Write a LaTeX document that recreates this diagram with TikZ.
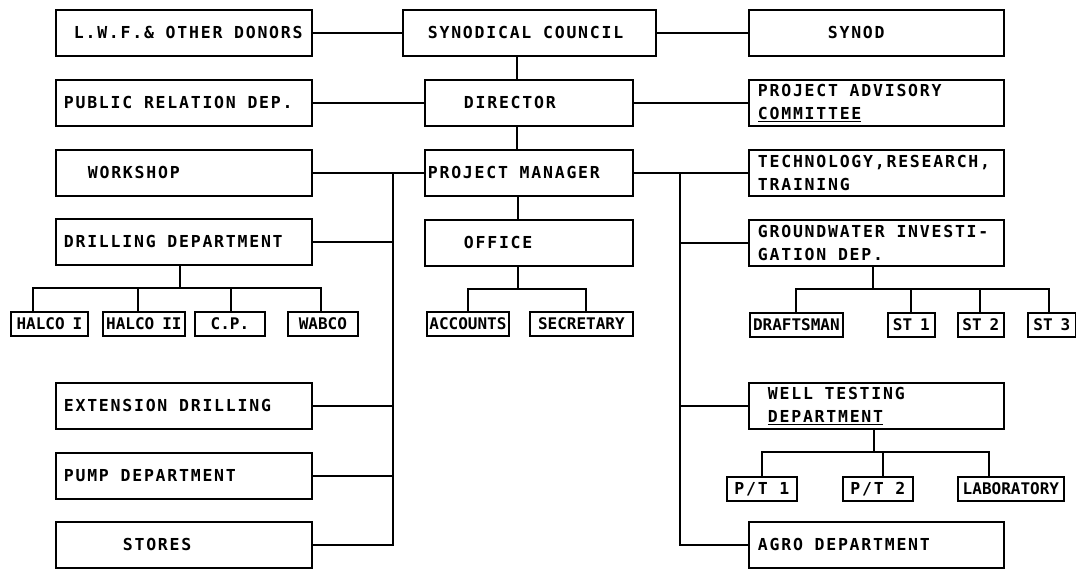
\documentclass[tikz,border=0pt]{standalone}
\usepackage{fontspec}
\newfontfamily\mainf{DejaVu Sans Mono}[LetterSpace=10.7]
\newfontfamily\subf{DejaVu Sans Mono}
\newcommand\bx[7][box]{\node[#1, minimum width=#5pt, minimum height=#6pt, text width=#5pt] (#2) at (#3,#4) {#7};}
\begin{document}
\begin{tikzpicture}[x=1pt,y=-1pt, line width=1.8pt,
  box/.style={draw, anchor=north west, inner sep=0pt, align=left,
    font=\mainf\bfseries\fontsize{16.5}{20}\selectfont,
    execute at begin node={\spaceskip=11.7pt\relax}},
  sbox/.style={draw, anchor=north west, inner sep=0pt, align=center,
    font=\subf\bfseries\fontsize{16}{18}\selectfont,
    execute at begin node={\spaceskip=8pt\relax}},
  pbox/.style={draw, anchor=north west, inner sep=0pt, align=center,
    font=\mainf\bfseries\fontsize{16.5}{18}\selectfont,
    execute at begin node={\spaceskip=11.7pt\relax}}]
\useasboundingbox (0,0) rectangle (1076,568);
% left column
\bx{lwf}{55}{9}{256}{46}{\hspace*{18pt}L.W.F.\& OTHER DONORS}
\bx{pr}{55}{79}{256}{46}{\hspace*{8pt}PUBLIC RELATION DEP.}
\bx{ws}{55}{149}{256}{46}{\hspace*{32pt}WORKSHOP}
\bx{dd}{55}{218}{256}{46}{\hspace*{8pt}DRILLING DEPARTMENT}
\bx{ed}{55}{382}{256}{46}{\hspace*{8pt}EXTENSION DRILLING}
\bx{pd}{55}{452}{256}{46}{\hspace*{8pt}PUMP DEPARTMENT}
\bx{st}{55}{521}{256}{46}{\hspace*{67pt}STORES}
% middle column
\bx{sc}{402}{9}{253}{46}{\hspace*{25pt}SYNODICAL COUNCIL}
\bx{dir}{424}{79}{208}{46}{\hspace*{39pt}DIRECTOR}
\bx{pm}{424}{149}{208}{46}{\hspace*{3pt}PROJECT MANAGER}
\bx{off}{424}{219}{208}{46}{\hspace*{39pt}OFFICE}
% right column
\bx{syn}{748}{9}{255}{46}{\hspace*{79pt}SYNOD}
\bx{pac}{748}{79}{255}{46}{\hspace*{9pt}PROJECT ADVISORY\\[3pt]\hspace*{9pt}\underline{COMMITTEE}}
\bx{trt}{748}{149}{255}{46}{\hspace*{9pt}TECHNOLOGY,RESEARCH,\\[3pt]\hspace*{9pt}TRAINING}
\bx{gw}{748}{219}{255}{46}{\hspace*{9pt}GROUNDWATER INVESTI-\\[3pt]\hspace*{9pt}GATION DEP.}
\bx{wt}{748}{382}{255}{46}{\hspace*{19pt}WELL TESTING\\[3pt]\hspace*{19pt}\underline{DEPARTMENT}}
\bx{agro}{748}{521}{255}{46}{\hspace*{9pt}AGRO DEPARTMENT}
% sub boxes
\bx[sbox]{h1}{10}{311}{77}{24}{HALCO I}
\bx[sbox]{h2}{102}{311}{82}{24}{HALCO II}
\bx[sbox]{cp}{194}{311}{70}{24}{C.P.}
\bx[sbox]{wab}{287}{311}{70}{24}{WABCO}
\bx[sbox]{acc}{426}{311}{82}{24}{ACCOUNTS}
\bx[sbox]{sec}{529}{311}{103}{24}{SECRETARY}
\bx[sbox]{dr}{749}{312}{93}{24}{DRAFTSMAN}
\bx[sbox]{st1}{887}{312}{47}{24}{ST 1}
\bx[sbox]{st2}{957}{312}{46}{24}{ST 2}
\bx[sbox]{st3}{1027}{312}{48}{24}{ST 3}
\bx[pbox]{pt1}{726}{476}{70}{24}{P/T 1}
\bx[pbox]{pt2}{842}{476}{70}{24}{P/T 2}
\bx[sbox]{lab}{957}{476}{106}{24}{LABORATORY}
% top connectors
\draw (lwf.east) -- (sc.west);
\draw (sc.east) -- (syn.west);
\draw (pr.east) -- (dir.west);
\draw (dir.east) -- (pac.west);
\draw (sc.south -| 517,0) -- (dir.north -| 517,0);
\draw (dir.south -| 517,0) -- (pm.north -| 517,0);
\draw (pm.south -| 518,0) -- (off.north -| 518,0);
\draw (ws.east) -- (pm.west);
\draw (pm.east) -- (trt.west);
% left trunk
\draw (ws.east -| 393,0) -- (st.east -| 393,0) -- (st.east);
\draw (dd.east) -- (dd.east -| 393,0);
\draw (ed.east) -- (ed.east -| 393,0);
\draw (pd.east) -- (pd.east -| 393,0);
% right trunk
\draw (trt.west -| 680,0) -- (agro.west -| 680,0) -- (agro.west);
\draw (gw.west) -- (gw.west -| 680,0);
\draw (wt.west) -- (wt.west -| 680,0);
% drilling tree
\draw (dd.south -| 180,0) -- (180,288);
\draw (h1.north -| 33,0) -- (33,288) -- (321,288) -- (wab.north -| 321,0);
\draw (h2.north -| 138,0) -- (138,288);
\draw (cp.north -| 231,0) -- (231,288);
% office tree
\draw (off.south -| 518,0) -- (518,289);
\draw (acc.north -| 468,0) -- (468,289) -- (586,289) -- (sec.north -| 586,0);
% groundwater tree
\draw (gw.south -| 873,0) -- (873,289);
\draw (dr.north -| 796,0) -- (796,289) -- (1049,289) -- (st3.north -| 1049,0);
\draw (st1.north -| 911,0) -- (911,289);
\draw (st2.north -| 980,0) -- (980,289);
% well testing tree
\draw (wt.south -| 874,0) -- (874,452);
\draw (pt1.north -| 762,0) -- (762,452) -- (989,452) -- (lab.north -| 989,0);
\draw (pt2.north -| 883,0) -- (883,452);
\end{tikzpicture}
\end{document}
